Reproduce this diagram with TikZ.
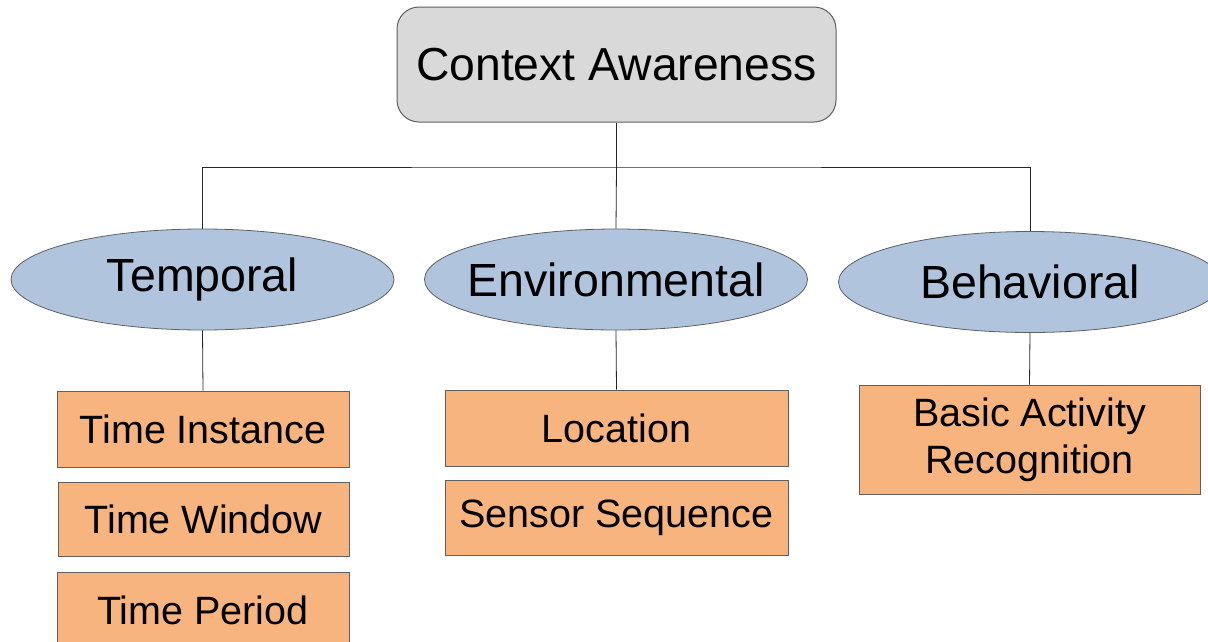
\documentclass[tikz,border=0pt]{standalone}
\usepackage{fontspec}
\setmainfont{Liberation Sans}
\usetikzlibrary{shapes.geometric}
\definecolor{topgray}{RGB}{217,217,217}
\definecolor{ellblue}{RGB}{176,196,222}
\definecolor{boxorange}{RGB}{247,180,126}
\definecolor{edgegray}{RGB}{95,95,95}
\begin{document}
\begin{tikzpicture}[x=1pt,y=-1pt,
  topbox/.style={draw=edgegray, line width=1pt, fill=topgray, rounded corners=22pt,
    minimum width=439pt, minimum height=115pt, inner sep=0pt,
    font=\fontsize{46.3}{52}\selectfont},
  ell/.style={draw=edgegray, line width=0.8pt, fill=ellblue, ellipse,
    minimum width=383pt, minimum height=101pt, inner sep=0pt},
  elltext/.style={inner sep=0pt, font=\fontsize{46.5}{52}\selectfont},
  leaf/.style={draw=edgegray, line width=0.8pt, fill=boxorange, inner sep=0pt,
    align=center, font=\fontsize{39.5}{47}\selectfont},
  conn/.style={draw=black!85, line width=0.8pt}
]
\useasboundingbox (0,0) rectangle (1208,641);
\clip (0,0) rectangle (1208,641);
\fill[white] (0,0) rectangle (1208,641);

\node[topbox] (ca) at (616.5,64.5) {Context Awareness};

\node[ell] (tem) at (202.5,279.5) {};
\node[elltext] at (tem.center) {Temporal};
\node[ell] (env) at (616,279.5) {};
\node[elltext] at (env.center) {Environmental};
\node[ell] (beh) at (1030,282) {};
\node[elltext] at (beh.center) {Behavioral};

\node[leaf, minimum width=292pt, minimum height=76pt] (ti) at (203,429) {Time Instance};
\node[leaf, minimum width=291pt, minimum height=74pt] (tw) at (203.5,519) {Time Window};
\node[leaf, minimum width=292pt, minimum height=76pt] (tp) at (203,610) {Time Period};
\node[leaf, minimum width=343pt, minimum height=76pt] (loc) at (616.5,428) {Location};
\node[leaf, minimum width=343pt, minimum height=75pt] (ss) at (616.5,518) {Sensor Sequence};
\node[leaf, minimum width=341pt, minimum height=109pt] (bar) at (1029.5,439.5) {Basic Activity\\Recognition};

\coordinate (hub) at (616.5,167);
\draw[conn] (ca.south) -- (hub);
\draw[conn] (tem.north) |- (hub) -| (beh.north);
\draw[conn] (hub) -- (env.north);
\draw[conn] (tem.south) -- (ti.north);
\draw[conn] (env.south) -- (loc.north);
\draw[conn] (beh.south) -- (bar.north);
\end{tikzpicture}
\end{document}
